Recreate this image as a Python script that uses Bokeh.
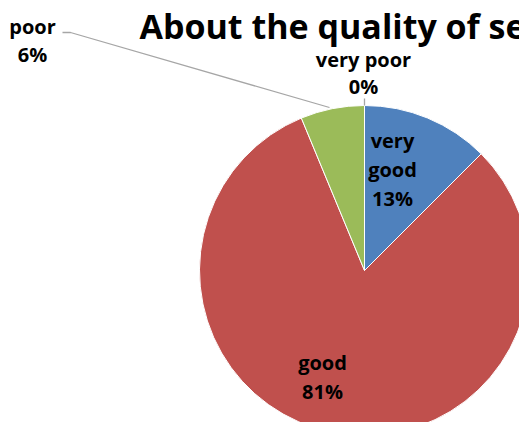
import math
from bokeh.plotting import figure
from bokeh.models import Range1d, ColumnDataSource
from bokeh.core.properties import value
from bokeh.embed import file_html
from bokeh.resources import INLINE

# ---- data ----
categories = ["very good", "good", "poor", "very poor"]
counts = [2, 13, 1, 0]
colors = ["#4F81BD", "#C0504D", "#9BBB59", "#8064A2"]
title_text = "About the quality of service"

total = sum(counts)
fracs = [c / total for c in counts]
pct_labels = [f"{int(math.floor(f * 100 + 0.5))}%" for f in fracs]

W, H = 519, 422
p = figure(width=W, height=H, output_backend="svg", toolbar_location=None,
           x_range=Range1d(0, W), y_range=Range1d(0, H), min_border=0)
p.axis.visible = False
p.grid.visible = False
p.outline_line_color = None
p.background_fill_color = "white"
p.border_fill_color = "white"

def Y(sy):
    return H - sy

cx, cy, r = 364, Y(270), 165

# wedges (clockwise from 12 o'clock)
cum = 0.0
xs, ys, starts, ends, cols = [], [], [], [], []
for f, c in zip(fracs, colors):
    if f > 0:
        starts.append(math.pi / 2 - 2 * math.pi * (cum + f))
        ends.append(math.pi / 2 - 2 * math.pi * cum)
        cols.append(c)
        xs.append(cx)
        ys.append(cy)
    cum += f
src = ColumnDataSource(dict(x=xs, y=ys, s=starts, e=ends, c=cols))
p.wedge(x="x", y="y", radius=r, start_angle="s", end_angle="e",
        fill_color="c", line_color="white", line_width=1, source=src)

font = value("Open Sans")
T = 8  # text vertical correction

# title
p.text(x=[139], y=[Y(33 - T)], text=[title_text], text_font=font,
       text_font_style="bold", text_font_size="34px", text_color="black",
       text_align="left", text_baseline="alphabetic")

# leader lines
p.line(x=[62, 70, 329], y=[Y(32), Y(32), Y(107)], line_color="#A6A6A6", line_width=1.3)
p.line(x=[364, 364], y=[Y(98), Y(105)], line_color="#A6A6A6", line_width=1.3)

lab_size = "20px"
def lab(x, sy, t):
    p.text(x=[x], y=[Y(sy - T)], text=[t], text_font=font, text_font_style="bold",
           text_font_size=lab_size, text_color="black", text_align="center",
           text_baseline="alphabetic")

# very good
lab(392, 148, categories[0].split(" ")[0])
lab(392, 177, categories[0].split(" ")[1])
lab(392, 206, pct_labels[0])
# good
lab(322, 370, categories[1])
lab(322, 399, pct_labels[1])
# poor
lab(32, 34, categories[2])
lab(32, 62, pct_labels[2])
# very poor
lab(363, 67, categories[3])
lab(363, 94, pct_labels[3])

open("out.html", "w").write(file_html(p, INLINE))
